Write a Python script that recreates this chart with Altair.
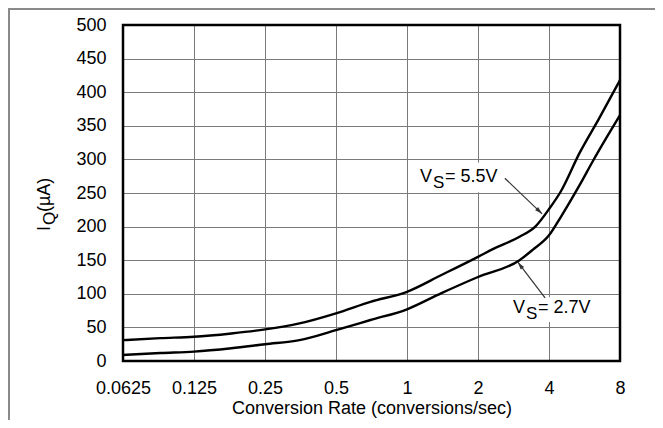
import altair as alt
import pandas as pd
import numpy as np

# ---- data ----
rate_55 = [0.0625, 0.09, 0.125, 0.18, 0.25, 0.35, 0.5, 0.7, 1, 1.4, 2, 2.3, 3, 3.5, 4, 4.5, 5.4, 6.5, 8]
iq_55 = [31, 34, 36, 41, 47, 56, 71, 88, 103, 128, 155, 166, 185, 200, 226, 253, 310, 360, 418]
rate_27 = [0.0625, 0.09, 0.125, 0.18, 0.25, 0.35, 0.5, 0.7, 1, 1.4, 2, 3, 3.4, 4, 4.5, 5.4, 6.15, 7, 8]
iq_27 = [9, 12, 14, 19, 25, 31, 46, 61, 77, 101, 125, 150, 165, 187, 215, 262, 298, 332, 366]
x_ticks = [0.0625, 0.125, 0.25, 0.5, 1, 2, 4, 8]
y_ticks = [0, 50, 100, 150, 200, 250, 300, 350, 400, 450, 500]

# annotations: label anchor, label box, arrow start/end
ann_label_x = [1.135, 2.815]
ann_label_y = [266, 71]
ann_value = ["= 5.5V", "= 2.7V"]
box_x = [1.08, 2.68]
box_x2 = [2.60, 6.45]
box_y = [251, 58]
box_y2 = [295, 95]
arrow_x = [2.60, 3.85]
arrow_y = [272, 94]
arrow_x2 = [3.74, 2.95]
arrow_y2 = [219, 147]

W, H = 497, 336
FONT = "Liberation Sans"

def px(x):
    return W * (np.log2(x) + 4) / 7.0

def py(y):
    return H * (1 - y / 500.0)

curves = pd.DataFrame({
    "rate": rate_55 + rate_27,
    "iq": iq_55 + iq_27,
    "series": ["5.5V"] * len(rate_55) + ["2.7V"] * len(rate_27),
})

xscale = alt.Scale(type="log", base=2, domain=[0.0625, 8], nice=False)
yscale = alt.Scale(domain=[0, 500], nice=False)

xaxis = alt.Axis(values=x_ticks, format="~g", title="Conversion Rate (conversions/sec)",
                 grid=True, gridColor="#7a7a7a", gridWidth=1, ticks=False, tickSize=0,
                 domain=False, labelPadding=18, labelFont=FONT, labelFontSize=18,
                 labelColor="black", titleFont=FONT, titleFontSize=18, titleFontWeight="normal",
                 titleColor="black", titlePadding=2, labelFlush=False, labelOverlap=False)
yaxis = alt.Axis(values=y_ticks, title=None, grid=True, gridColor="#7a7a7a", gridWidth=1,
                 ticks=False, tickSize=0, domain=False, labelPadding=17, labelFont=FONT,
                 labelFontSize=18, labelColor="black", labelFlush=False, labelOverlap=False)

def X(f):
    return alt.X(f, scale=xscale, axis=xaxis)

def Y(f):
    return alt.Y(f, scale=yscale, axis=yaxis)

lines = alt.Chart(curves).mark_line(color="black", strokeWidth=2.4, interpolate="monotone").encode(
    x=X("rate:Q"), y=Y("iq:Q"), detail="series:N",
)

boxes_df = pd.DataFrame({"x": box_x, "x2": box_x2, "y": box_y, "y2": box_y2})
boxes = alt.Chart(boxes_df).mark_rect(color="white").encode(
    x=X("x:Q"), x2="x2:Q", y=Y("y:Q"), y2="y2:Q",
)

lab_df = pd.DataFrame({"x": ann_label_x, "y": ann_label_y, "v": ann_value})
txt_common = dict(font=FONT, color="black", align="left", baseline="alphabetic")
lab_V = alt.Chart(lab_df).mark_text(text="V", fontSize=18, **txt_common).encode(
    x=X("x:Q"), y=Y("y:Q"))
lab_S = alt.Chart(lab_df).mark_text(text="S", fontSize=17, dx=13, dy=6, **txt_common).encode(
    x=X("x:Q"), y=Y("y:Q"))
lab_val = alt.Chart(lab_df).mark_text(fontSize=18, dx=25, **txt_common).encode(
    x=X("x:Q"), y=Y("y:Q"), text="v:N")

arr_df = pd.DataFrame({"x": arrow_x, "y": arrow_y, "x2": arrow_x2, "y2": arrow_y2})
dxp = px(np.array(arrow_x2)) - px(np.array(arrow_x))
dyp = py(np.array(arrow_y2)) - py(np.array(arrow_y))
arr_df["ang"] = (np.degrees(np.arctan2(dxp, -dyp)) + 360) % 360
shafts = alt.Chart(arr_df).mark_rule(color="#333333", strokeWidth=1.2).encode(
    x=X("x:Q"), x2="x2:Q", y=Y("y:Q"), y2="y2:Q",
)
heads = alt.Chart(arr_df).mark_point(
    shape="M0,0L-0.45,1.6L0.45,1.6Z", filled=True, color="#333333", size=90, opacity=1
).encode(
    x=X("x2:Q"), y=Y("y2:Q"),
    angle=alt.Angle("ang:Q", scale=None),
)

one = pd.DataFrame({"k": [0]})
# y-axis title I_Q(uA), rotated
title_I = alt.Chart(one).mark_text(text="I", fontSize=18, angle=270, **txt_common).encode(
    x=alt.value(-73), y=alt.value(206))
title_Q = alt.Chart(one).mark_text(text="Q", fontSize=17, angle=270, **txt_common).encode(
    x=alt.value(-68), y=alt.value(200))
title_uA = alt.Chart(one).mark_text(text="(\u00b5A)", fontSize=18, angle=270, **txt_common).encode(
    x=alt.value(-73), y=alt.value(187))

# plot border
border = alt.Chart(one).mark_rect(filled=False, stroke="black", strokeWidth=2.5).encode(
    x=alt.value(0), x2=alt.value(W), y=alt.value(0), y2=alt.value(H))

# outer frame (left and top edges)
frame_left = alt.Chart(one).mark_rule(color="#8a8a8a", strokeWidth=2).encode(
    x=alt.value(-114), y=alt.value(-16), y2=alt.value(H + 59))
frame_top = alt.Chart(one).mark_rule(color="#8a8a8a", strokeWidth=2).encode(
    x=alt.value(-115), x2=alt.value(W + 35), y=alt.value(-16))

chart = alt.layer(lines, boxes, shafts, heads, lab_V, lab_S, lab_val,
                  title_I, title_Q, title_uA, border, frame_left, frame_top).properties(
    width=W, height=H,
    autosize=alt.AutoSizeParams(type="none"),
    padding={"left": 115, "top": 17, "right": 35, "bottom": 59},
).configure_view(stroke="black", strokeWidth=2.5).configure(background="white")

chart.save("out.html", embed_options={"renderer": "svg", "actions": False})
